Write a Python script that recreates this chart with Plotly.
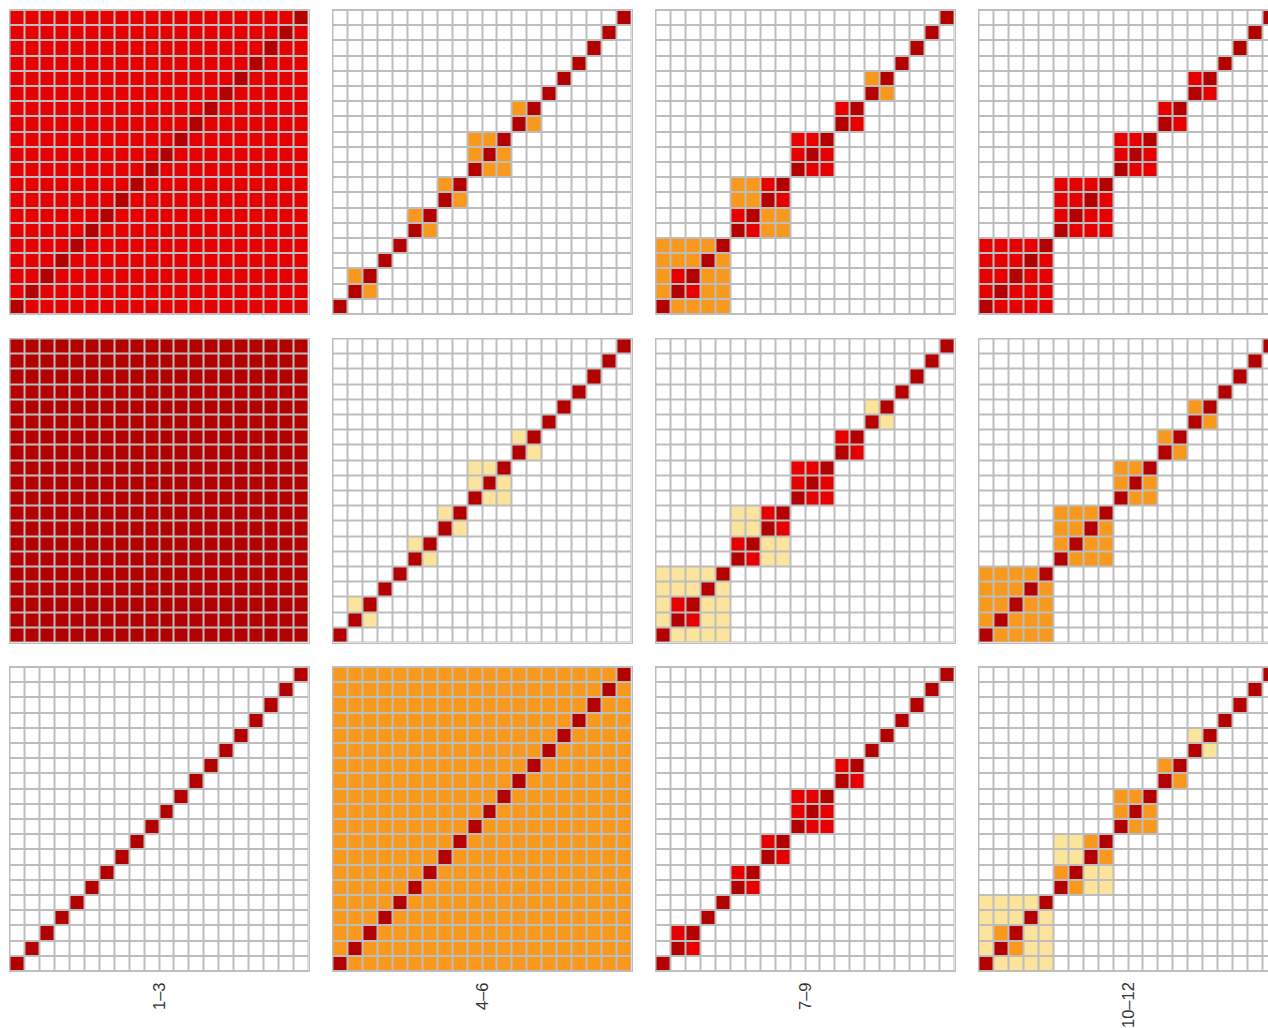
import plotly.graph_objects as go

# Column labels (shown under each column of panels)
col_labels = ["1\u20133", "4\u20136", "7\u20139", "10\u201312"]

# Level codes: 0 = not together, 1 = light, 2 = orange, 3 = red, 4 = self (dark red)
level_colors = ["#ffffff", "#fce49c", "#f8991d", "#e60000", "#b30000"]

# Each panel: 20 rows (row 0 at the bottom), 20 columns (col 0 at the left)
panel_r1_c1 = [
    "43333 33333 33333 33333", "34333 33333 33333 33333", "33433 33333 33333 33333",
    "33343 33333 33333 33333", "33334 33333 33333 33333", "33333 43333 33333 33333",
    "33333 34333 33333 33333", "33333 33433 33333 33333", "33333 33343 33333 33333",
    "33333 33334 33333 33333", "33333 33333 43333 33333", "33333 33333 34333 33333",
    "33333 33333 33433 33333", "33333 33333 33343 33333", "33333 33333 33334 33333",
    "33333 33333 33333 43333", "33333 33333 33333 34333", "33333 33333 33333 33433",
    "33333 33333 33333 33343", "33333 33333 33333 33334",
]
panel_r1_c2 = [
    "40000 00000 00000 00000", "04200 00000 00000 00000", "02400 00000 00000 00000",
    "00040 00000 00000 00000", "00004 00000 00000 00000", "00000 42000 00000 00000",
    "00000 24000 00000 00000", "00000 00420 00000 00000", "00000 00240 00000 00000",
    "00000 00004 22000 00000", "00000 00002 42000 00000", "00000 00002 24000 00000",
    "00000 00000 00420 00000", "00000 00000 00240 00000", "00000 00000 00004 00000",
    "00000 00000 00000 40000", "00000 00000 00000 04000", "00000 00000 00000 00400",
    "00000 00000 00000 00040", "00000 00000 00000 00004",
]
panel_r1_c3 = [
    "42222 00000 00000 00000", "24322 00000 00000 00000", "23422 00000 00000 00000",
    "22242 00000 00000 00000", "22224 00000 00000 00000", "00000 43220 00000 00000",
    "00000 34220 00000 00000", "00000 22430 00000 00000", "00000 22340 00000 00000",
    "00000 00004 33000 00000", "00000 00003 43000 00000", "00000 00003 34000 00000",
    "00000 00000 00430 00000", "00000 00000 00340 00000", "00000 00000 00004 20000",
    "00000 00000 00002 40000", "00000 00000 00000 04000", "00000 00000 00000 00400",
    "00000 00000 00000 00040", "00000 00000 00000 00004",
]
panel_r1_c4 = [
    "43333 00000 00000 00000", "34333 00000 00000 00000", "33433 00000 00000 00000",
    "33343 00000 00000 00000", "33334 00000 00000 00000", "00000 43330 00000 00000",
    "00000 34330 00000 00000", "00000 33430 00000 00000", "00000 33340 00000 00000",
    "00000 00004 33000 00000", "00000 00003 43000 00000", "00000 00003 34000 00000",
    "00000 00000 00430 00000", "00000 00000 00340 00000", "00000 00000 00004 30000",
    "00000 00000 00003 40000", "00000 00000 00000 04000", "00000 00000 00000 00400",
    "00000 00000 00000 00040", "00000 00000 00000 00004",
]
panel_r2_c1 = [
    "44444 44444 44444 44444", "44444 44444 44444 44444", "44444 44444 44444 44444",
    "44444 44444 44444 44444", "44444 44444 44444 44444", "44444 44444 44444 44444",
    "44444 44444 44444 44444", "44444 44444 44444 44444", "44444 44444 44444 44444",
    "44444 44444 44444 44444", "44444 44444 44444 44444", "44444 44444 44444 44444",
    "44444 44444 44444 44444", "44444 44444 44444 44444", "44444 44444 44444 44444",
    "44444 44444 44444 44444", "44444 44444 44444 44444", "44444 44444 44444 44444",
    "44444 44444 44444 44444", "44444 44444 44444 44444",
]
panel_r2_c2 = [
    "40000 00000 00000 00000", "04100 00000 00000 00000", "01400 00000 00000 00000",
    "00040 00000 00000 00000", "00004 00000 00000 00000", "00000 41000 00000 00000",
    "00000 14000 00000 00000", "00000 00410 00000 00000", "00000 00140 00000 00000",
    "00000 00004 11000 00000", "00000 00001 41000 00000", "00000 00001 14000 00000",
    "00000 00000 00410 00000", "00000 00000 00140 00000", "00000 00000 00004 00000",
    "00000 00000 00000 40000", "00000 00000 00000 04000", "00000 00000 00000 00400",
    "00000 00000 00000 00040", "00000 00000 00000 00004",
]
panel_r2_c3 = [
    "41111 00000 00000 00000", "14311 00000 00000 00000", "13411 00000 00000 00000",
    "11141 00000 00000 00000", "11114 00000 00000 00000", "00000 43110 00000 00000",
    "00000 34110 00000 00000", "00000 11430 00000 00000", "00000 11340 00000 00000",
    "00000 00004 33000 00000", "00000 00003 43000 00000", "00000 00003 34000 00000",
    "00000 00000 00430 00000", "00000 00000 00340 00000", "00000 00000 00004 10000",
    "00000 00000 00001 40000", "00000 00000 00000 04000", "00000 00000 00000 00400",
    "00000 00000 00000 00040", "00000 00000 00000 00004",
]
panel_r2_c4 = [
    "42222 00000 00000 00000", "24222 00000 00000 00000", "22422 00000 00000 00000",
    "22242 00000 00000 00000", "22224 00000 00000 00000", "00000 42220 00000 00000",
    "00000 24220 00000 00000", "00000 22420 00000 00000", "00000 22240 00000 00000",
    "00000 00004 22000 00000", "00000 00002 42000 00000", "00000 00002 24000 00000",
    "00000 00000 00420 00000", "00000 00000 00240 00000", "00000 00000 00004 20000",
    "00000 00000 00002 40000", "00000 00000 00000 04000", "00000 00000 00000 00400",
    "00000 00000 00000 00040", "00000 00000 00000 00004",
]
panel_r3_c1 = [
    "40000 00000 00000 00000", "04000 00000 00000 00000", "00400 00000 00000 00000",
    "00040 00000 00000 00000", "00004 00000 00000 00000", "00000 40000 00000 00000",
    "00000 04000 00000 00000", "00000 00400 00000 00000", "00000 00040 00000 00000",
    "00000 00004 00000 00000", "00000 00000 40000 00000", "00000 00000 04000 00000",
    "00000 00000 00400 00000", "00000 00000 00040 00000", "00000 00000 00004 00000",
    "00000 00000 00000 40000", "00000 00000 00000 04000", "00000 00000 00000 00400",
    "00000 00000 00000 00040", "00000 00000 00000 00004",
]
panel_r3_c2 = [
    "42222 22222 22222 22222", "24222 22222 22222 22222", "22422 22222 22222 22222",
    "22242 22222 22222 22222", "22224 22222 22222 22222", "22222 42222 22222 22222",
    "22222 24222 22222 22222", "22222 22422 22222 22222", "22222 22242 22222 22222",
    "22222 22224 22222 22222", "22222 22222 42222 22222", "22222 22222 24222 22222",
    "22222 22222 22422 22222", "22222 22222 22242 22222", "22222 22222 22224 22222",
    "22222 22222 22222 42222", "22222 22222 22222 24222", "22222 22222 22222 22422",
    "22222 22222 22222 22242", "22222 22222 22222 22224",
]
panel_r3_c3 = [
    "40000 00000 00000 00000", "04300 00000 00000 00000", "03400 00000 00000 00000",
    "00040 00000 00000 00000", "00004 00000 00000 00000", "00000 43000 00000 00000",
    "00000 34000 00000 00000", "00000 00430 00000 00000", "00000 00340 00000 00000",
    "00000 00004 33000 00000", "00000 00003 43000 00000", "00000 00003 34000 00000",
    "00000 00000 00430 00000", "00000 00000 00340 00000", "00000 00000 00004 00000",
    "00000 00000 00000 40000", "00000 00000 00000 04000", "00000 00000 00000 00400",
    "00000 00000 00000 00040", "00000 00000 00000 00004",
]
panel_r3_c4 = [
    "41111 00000 00000 00000", "14211 00000 00000 00000", "12411 00000 00000 00000",
    "11141 00000 00000 00000", "11114 00000 00000 00000", "00000 42110 00000 00000",
    "00000 24110 00000 00000", "00000 11420 00000 00000", "00000 11240 00000 00000",
    "00000 00004 22000 00000", "00000 00002 42000 00000", "00000 00002 24000 00000",
    "00000 00000 00420 00000", "00000 00000 00240 00000", "00000 00000 00004 10000",
    "00000 00000 00001 40000", "00000 00000 00000 04000", "00000 00000 00000 00400",
    "00000 00000 00000 00040", "00000 00000 00000 00004",
]

panels = [
    [panel_r1_c1, panel_r1_c2, panel_r1_c3, panel_r1_c4],
    [panel_r2_c1, panel_r2_c2, panel_r2_c3, panel_r2_c4],
    [panel_r3_c1, panel_r3_c2, panel_r3_c3, panel_r3_c4],
]


def to_matrix(rows):
    return [[int(ch) for ch in r.replace(" ", "")] for r in rows]


W, H = 1268, 1028
GRID = "#bdbdbd"
n = 20
idx = list(range(n))

colorscale = [[k / 4, c] for k, c in enumerate(level_colors)]

fig = go.Figure()
layout = dict(
    width=W, height=H, margin=dict(l=0, r=0, t=0, b=0),
    paper_bgcolor="white", plot_bgcolor=GRID, showlegend=False,
)

col_left = [9.5 + 323 * c for c in range(4)]
panel_w = 299.0
row_top = [10 + 328.5 * r for r in range(3)]
panel_h = 304.0

k = 0
for r in range(3):
    for c in range(4):
        k += 1
        xa = "x" if k == 1 else f"x{k}"
        ya = "y" if k == 1 else f"y{k}"
        z = to_matrix(panels[r][c])
        fig.add_trace(go.Heatmap(
            z=z, x=idx, y=idx, xaxis=xa, yaxis=ya,
            colorscale=colorscale, zmin=0, zmax=4, showscale=False,
            xgap=2, ygap=2, hoverinfo="skip",
        ))
        left = col_left[c]
        right = min(left + panel_w, W)
        xmax = -0.5 + n * (right - left) / panel_w
        top = row_top[r]
        bot = top + panel_h
        xkey = "xaxis" if k == 1 else f"xaxis{k}"
        ykey = "yaxis" if k == 1 else f"yaxis{k}"
        layout[xkey] = dict(
            domain=[left / W, right / W], range=[-0.5, xmax], anchor=ya,
            showgrid=False, zeroline=False, showticklabels=False, ticks="",
            showline=True, mirror=True, linecolor=GRID, linewidth=1,
            fixedrange=True,
        )
        layout[ykey] = dict(
            domain=[1 - bot / H, 1 - top / H], range=[-0.5, n - 0.5], anchor=xa,
            showgrid=False, zeroline=False, showticklabels=False, ticks="",
            showline=True, mirror=(c < 3), linecolor=GRID, linewidth=1,
            fixedrange=True,
        )

annotations = []
for c, lab in enumerate(col_labels):
    cx = (col_left[c] + col_left[c] + panel_w) / 2
    annotations.append(dict(
        text=lab, x=cx / W, y=1 - 980 / H, xref="paper", yref="paper",
        xanchor="center", yanchor="top", textangle=-90, showarrow=False,
        font=dict(family="Liberation Sans, Arial, sans-serif", size=16.5, color="#333333"),
    ))
layout["annotations"] = annotations

fig.update_layout(**layout)
fig.write_html(
    "out.html",
    config={"displayModeBar": False},
    post_script="document.body.style.margin='0px';document.body.style.overflow='hidden';",
)
